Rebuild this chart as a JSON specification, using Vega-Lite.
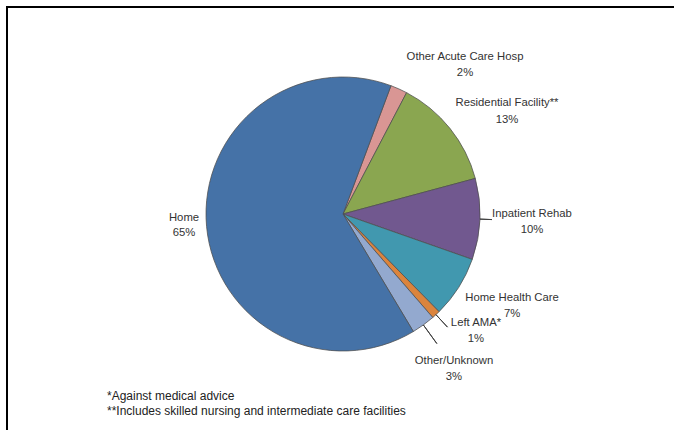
{
  "$schema": "https://vega.github.io/schema/vega-lite/v6.json",
  "width": 672,
  "height": 431,
  "autosize": {"type": "none"},
  "padding": {"left": 7, "top": 7, "right": -5, "bottom": -8},
  "background": "white",
  "view": {"stroke": "#000000", "strokeWidth": 2},
  "config": {"view": {"stroke": "#000000", "strokeWidth": 2}},
  "title": {
    "text": ["*Against medical advice", "**Includes skilled nursing and intermediate care facilities"],
    "orient": "bottom",
    "anchor": "start",
    "frame": "group",
    "offset": -47,
    "dx": 100,
    "baseline": "top",
    "font": "Liberation Sans",
    "fontSize": 12,
    "fontWeight": "normal",
    "color": "#222222",
    "lineHeight": 15
  },
  "data": {
    "values": [
      {"category": "Other Acute Care Hosp", "value": 2.0, "label": "Other Acute Care Hosp\n2%"},
      {"category": "Residential Facility**", "value": 13.2, "label": "Residential Facility**\n13%"},
      {"category": "Inpatient Rehab", "value": 9.6, "label": "Inpatient Rehab\n10%"},
      {"category": "Home Health Care", "value": 7.3, "label": "Home Health Care\n7%"},
      {"category": "Left AMA*", "value": 1.0, "label": "Left AMA*\n1%"},
      {"category": "Other/Unknown", "value": 2.8, "label": "Other/Unknown\n3%"},
      {"category": "Home", "value": 64.6, "label": "Home\n65%"}
    ]
  },
  "transform": [
    {"stack": "value", "groupby": [], "as": ["t0", "t1"]},
    {"calculate": "(datum.t0 + datum.t1) / 2", "as": "mid"}
  ],
  "layer": [
    {
      "mark": {"type": "arc", "radius": 137, "stroke": "#4d4d4d", "strokeWidth": 0.75, "yOffset": -8.5},
      "encoding": {
        "theta": {"field": "t0", "type": "quantitative", "scale": {"domain": [0, 100.5], "range": [0.3578, 6.6410], "nice": false, "zero": true}},
        "theta2": {"field": "t1"},
        "color": {
          "field": "category",
          "type": "nominal",
          "scale": {
            "domain": ["Other Acute Care Hosp", "Residential Facility**", "Inpatient Rehab", "Home Health Care", "Left AMA*", "Other/Unknown", "Home"],
            "range": ["#D99694", "#8AA650", "#71588F", "#4198AF", "#DB843D", "#93A9CF", "#4572A7"]
          },
          "legend": null
        }
      }
    },
    {
      "transform": [{"filter": "datum.category === 'Inpatient Rehab'"}],
      "mark": {"type": "arc", "radius": 149, "radius2": 137, "stroke": "#404040", "strokeWidth": 1, "fillOpacity": 0, "yOffset": -8.5},
      "encoding": {"theta": {"field": "mid", "type": "quantitative"}, "theta2": {"field": "mid"}}
    },
    {
      "transform": [{"filter": "datum.category === 'Left AMA*'"}],
      "mark": {"type": "arc", "radius": 154, "radius2": 137, "stroke": "#404040", "strokeWidth": 1, "fillOpacity": 0, "yOffset": -8.5},
      "encoding": {"theta": {"field": "mid", "type": "quantitative"}, "theta2": {"field": "mid"}}
    },
    {
      "transform": [{"filter": "datum.category === 'Other/Unknown'"}],
      "mark": {"type": "arc", "radius": 160, "radius2": 137, "stroke": "#404040", "strokeWidth": 1, "fillOpacity": 0, "yOffset": -8.5},
      "encoding": {"theta": {"field": "mid", "type": "quantitative"}, "theta2": {"field": "mid"}}
    },
    {
      "transform": [{"filter": "datum.category === 'Other Acute Care Hosp'"}],
      "mark": {"type": "text", "radius": 150, "dx": 60.8, "dy": -20, "yOffset": -8.5, "lineBreak": "\n", "font": "Liberation Sans", "fontSize": 11.3, "fill": "#333333", "lineHeight": 16, "align": "center", "baseline": "middle"},
      "encoding": {"theta": {"field": "mid", "type": "quantitative"}, "text": {"field": "label"}}
    },
    {
      "transform": [{"filter": "datum.category === 'Residential Facility**'"}],
      "mark": {"type": "text", "radius": 150, "dx": 46.9, "dy": -17.5, "yOffset": -8.5, "lineBreak": "\n", "font": "Liberation Sans", "fontSize": 11.3, "fill": "#333333", "lineHeight": 17, "align": "center", "baseline": "middle"},
      "encoding": {"theta": {"field": "mid", "type": "quantitative"}, "text": {"field": "label"}}
    },
    {
      "transform": [{"filter": "datum.category === 'Inpatient Rehab'"}],
      "mark": {"type": "text", "radius": 150, "dx": 39.1, "dy": -6, "yOffset": -8.5, "lineBreak": "\n", "font": "Liberation Sans", "fontSize": 11.3, "fill": "#333333", "lineHeight": 16, "align": "center", "baseline": "middle"},
      "encoding": {"theta": {"field": "mid", "type": "quantitative"}, "text": {"field": "label"}}
    },
    {
      "transform": [{"filter": "datum.category === 'Home Health Care'"}],
      "mark": {"type": "text", "radius": 150, "dx": 42.4, "dy": 3.8, "yOffset": -8.5, "lineBreak": "\n", "font": "Liberation Sans", "fontSize": 11.3, "fill": "#333333", "lineHeight": 16, "align": "center", "baseline": "middle"},
      "encoding": {"theta": {"field": "mid", "type": "quantitative"}, "text": {"field": "label"}}
    },
    {
      "transform": [{"filter": "datum.category === 'Left AMA*'"}],
      "mark": {"type": "text", "radius": 150, "dx": 31.2, "dy": -0.8, "yOffset": -8.5, "lineBreak": "\n", "font": "Liberation Sans", "fontSize": 11.3, "fill": "#333333", "lineHeight": 16, "align": "center", "baseline": "middle"},
      "encoding": {"theta": {"field": "mid", "type": "quantitative"}, "text": {"field": "label"}}
    },
    {
      "transform": [{"filter": "datum.category === 'Other/Unknown'"}],
      "mark": {"type": "text", "radius": 150, "dx": 23, "dy": 25.3, "yOffset": -8.5, "lineBreak": "\n", "font": "Liberation Sans", "fontSize": 11.3, "fill": "#333333", "lineHeight": 16, "align": "center", "baseline": "middle"},
      "encoding": {"theta": {"field": "mid", "type": "quantitative"}, "text": {"field": "label"}}
    },
    {
      "transform": [{"filter": "datum.category === 'Home'"}],
      "mark": {"type": "text", "radius": 150, "dx": -9.6, "dy": -9.3, "yOffset": -8.5, "lineBreak": "\n", "font": "Liberation Sans", "fontSize": 11.3, "fill": "#333333", "lineHeight": 15, "align": "center", "baseline": "middle"},
      "encoding": {"theta": {"field": "mid", "type": "quantitative"}, "text": {"field": "label"}}
    }
  ]
}
